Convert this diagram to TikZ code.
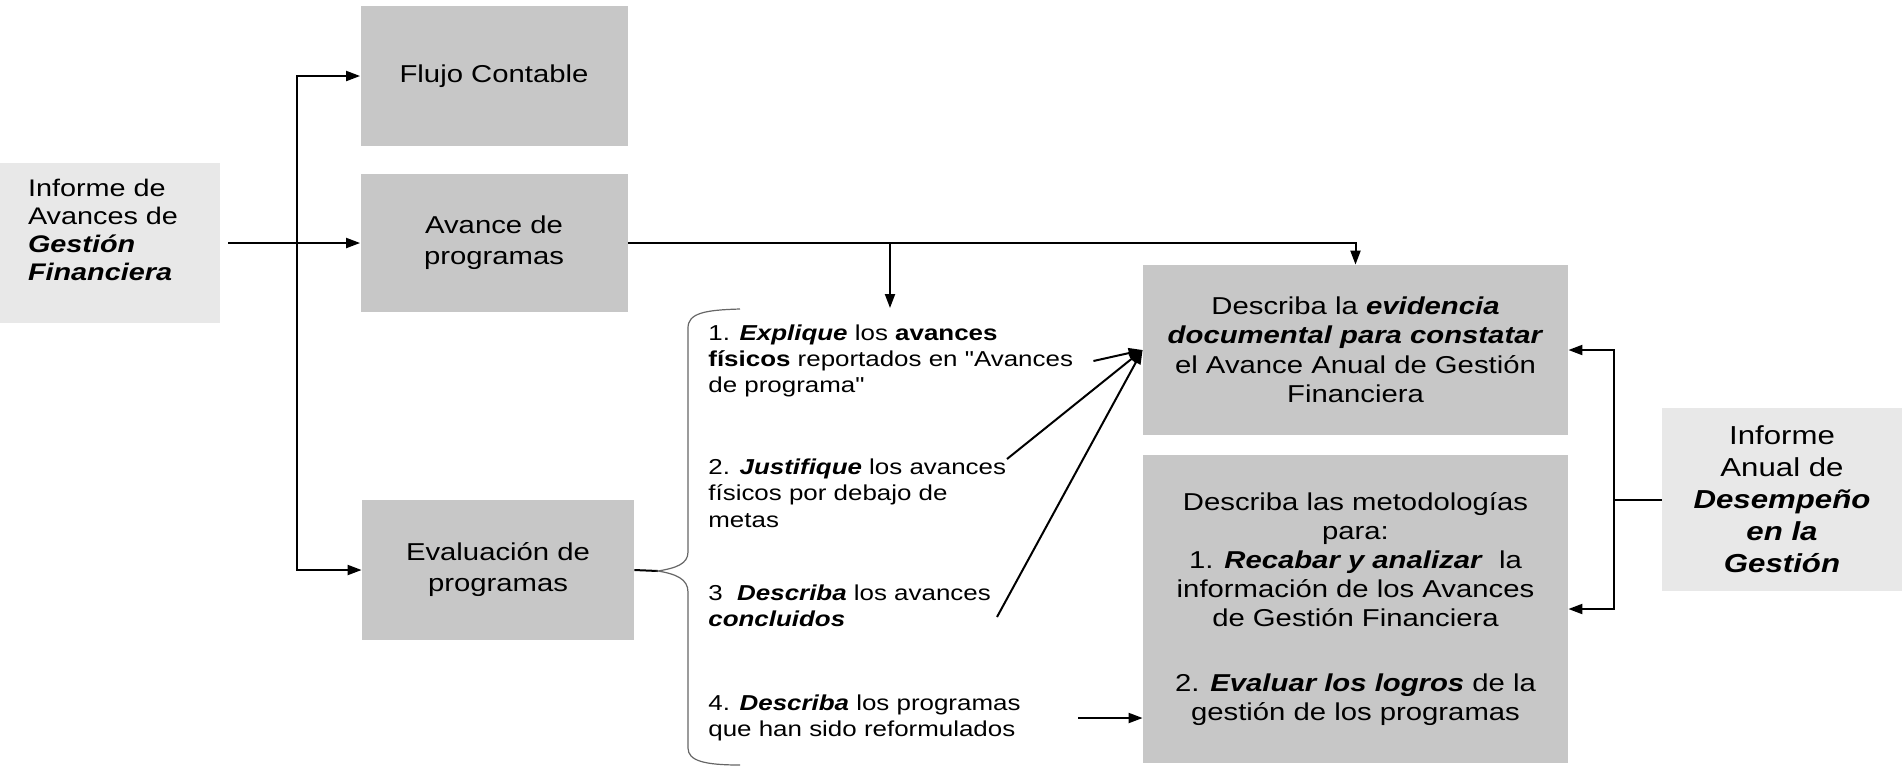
\documentclass[tikz,border=0pt]{standalone}
\usepackage{fontspec}
\setmainfont[FakeStretch=1.2, Ligatures=TeXOff]{Liberation Sans}
\usepackage{tikz}
\usetikzlibrary{arrows.meta}

\newcommand{\bi}[1]{\textbf{\textit{#1}}}

\begin{document}
\begin{tikzpicture}[x=0.5pt,y=0.5pt]
\tikzstyle{every node}+=[inner sep=0pt]
\tikzstyle{gbox}=[fill=black!22, align=center, font=\fontsize{12.2}{15.5}\selectfont]
\tikzstyle{lbox}=[fill=black!9]
\tikzstyle{item}=[align=left, anchor=west, font=\fontsize{10.8}{13.2}\selectfont]
\tikzstyle{conn}=[black, line width=1pt]
\tikzstyle{arr}=[conn, -{Triangle[length=7pt,width=5pt]}]
\useasboundingbox (0,0) rectangle (1902,-768);
% left column
\draw (110,-243) node [lbox, minimum width=110pt, minimum height=80pt] (info) {};
\draw ([xshift=14pt,yshift=6.5pt]info.west) node [anchor=west, align=left, font=\fontsize{12}{14}\selectfont] (infotext) {Informe de\\Avances de\\\bi{Gestión}\\\bi{Financiera}};
\draw (494,-76) node [gbox, minimum width=133.5pt, minimum height=70pt] (flujo) {Flujo Contable};
\draw (494,-243) node [gbox, minimum width=133.5pt, minimum height=69pt] (avance) {Avance de\\programas};
\draw (498,-570) node [gbox, minimum width=136pt, minimum height=70pt] (evalua) {Evaluación de\\programas};
% items
\draw (708,-361) node [item] (item1) {1. \bi{Explique} los \textbf{avances}\\\textbf{físicos} reportados en "Avances\\de programa"};
\draw (708,-493) node [item] (item2) {2. \bi{Justifique} los avances\\físicos por debajo de\\metas};
\draw (708,-606) node [item] (item3) {3~ \bi{Describa} los avances\\\bi{concluidos}};
\draw (708,-718) node [item] (item4) {4. \bi{Describa} los programas\\que han sido reformulados};
% right column
\draw (1355.5,-350) node [gbox, minimum width=212.5pt, minimum height=85pt, font=\fontsize{12.2}{14.75}\selectfont] (evid) {Describa la \bi{evidencia}\\\bi{documental para constatar}\\el Avance Anual de Gestión\\Financiera};
\draw (1355.5,-609) node [gbox, minimum width=212.5pt, minimum height=154pt, font=\fontsize{12.2}{14.5}\selectfont] (metod) {Describa las metodologías\\para:\\1. \bi{Recabar y analizar}\ \ la\\información de los Avances\\de Gestión Financiera\\[18pt]2. \bi{Evaluar los logros} de la\\gestión de los programas};
\draw (1782,-499.5) node [lbox, minimum width=120pt, minimum height=91.5pt, align=center, font=\fontsize{13}{16}\selectfont] (anual) {Informe\\Anual de\\\bi{Desempeño}\\\bi{en la}\\\bi{Gestión}};
% connectors
\coordinate (fork) at (297,-243);
\coordinate (split) at (890,-243);
\coordinate (itop) at (890,-308);
\coordinate (tip) at (658,-571);
\coordinate (from2) at (1007,-459);
\coordinate (from3) at (997,-617);
\coordinate (from4) at (1078,-718);
\coordinate (rjoin) at (1614,-499.5);
\draw [conn] ([xshift=4pt]info.east) -- (fork);
\draw [arr] (fork) |- (flujo.west);
\draw [arr] (fork) -- (avance.west);
\draw [arr] (fork) |- (evalua.west);
\draw [arr] (avance.east) -| (evid.north);
\draw [arr] (split) -- (itop);
\draw [conn] (evalua.east) -- (tip);
\draw [black!60, line width=0.6pt] (740,-309) .. controls (705,-310) and (688,-313) .. (688,-328) -- (688,-552) .. controls (688,-564) and (676,-568) .. (tip) .. controls (676,-574) and (688,-579) .. (688,-592) -- (688,-748) .. controls (688,-761) and (705,-765) .. (740,-765);
\draw [arr] ([xshift=10pt]item1.east) -- (evid.west);
\draw [arr] (from2) -- (evid.west);
\draw [arr] (from3) -- (evid.west);
\draw [arr] (from4) -- (from4 -| metod.west);
\draw [conn] (anual.west) -- (rjoin);
\draw [arr] (rjoin) |- (evid.east);
\draw [arr] (rjoin) |- (metod.east);
\end{tikzpicture}
\end{document}
